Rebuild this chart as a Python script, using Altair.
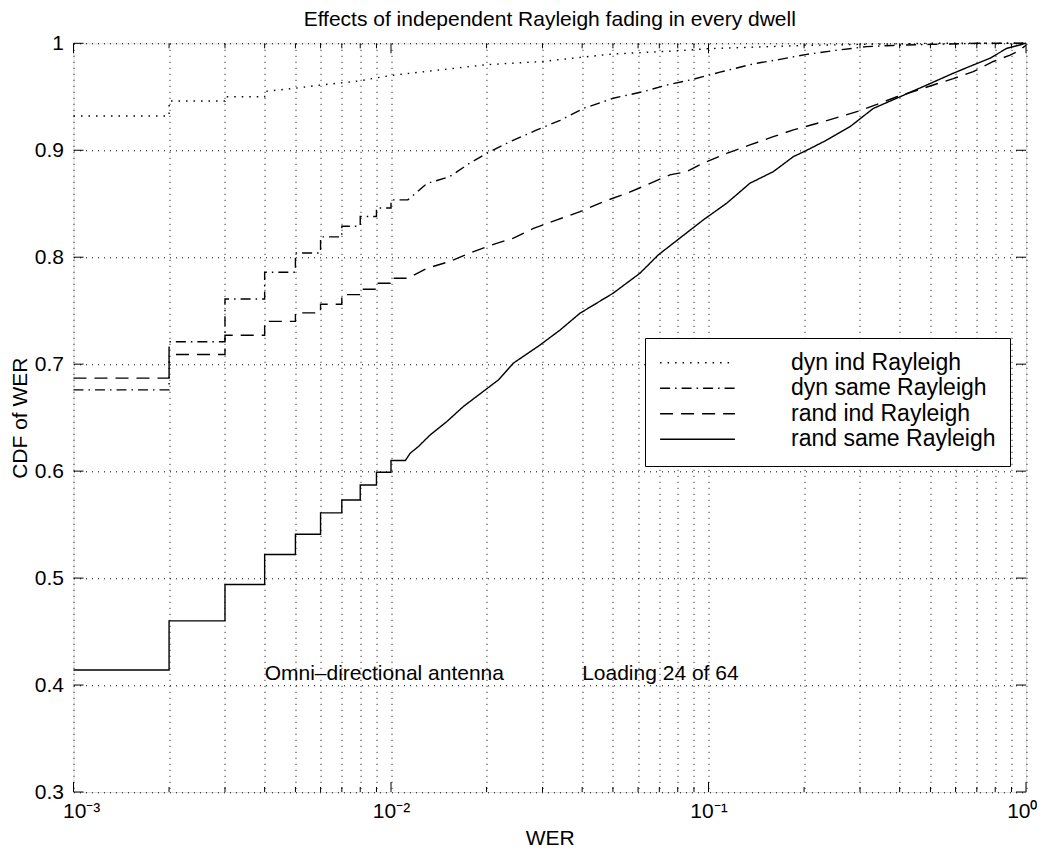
import altair as alt
import pandas as pd

# ---------------- data ----------------
DYN_IND_X = [0.001, 0.002, 0.002, 0.003, 0.003, 0.004, 0.004, 0.005, 0.006, 0.007, 0.008,
             0.01, 0.02, 0.03, 0.04, 0.05, 0.08, 0.1, 0.2, 0.3, 0.5, 1.0]
DYN_IND_Y = [0.932, 0.932, 0.946, 0.946, 0.950, 0.950, 0.955, 0.958, 0.961, 0.963, 0.965,
             0.970, 0.980, 0.983, 0.987, 0.990, 0.993, 0.995, 0.998, 0.999, 1.0, 1.0]

DYN_SAME_X = [0.001, 0.002, 0.002, 0.003, 0.003, 0.004, 0.004, 0.005, 0.005, 0.006, 0.006,
              0.007, 0.007, 0.008, 0.008, 0.009, 0.009, 0.01, 0.01, 0.0113, 0.013, 0.0153,
              0.0177, 0.020, 0.0237, 0.0288, 0.0341, 0.0403, 0.0501, 0.0623, 0.0739, 0.0896,
              0.1087, 0.1381, 0.168, 0.204, 0.247, 0.315, 0.381, 0.5, 0.7, 1.0]
DYN_SAME_Y = [0.676, 0.676, 0.721, 0.721, 0.761, 0.761, 0.786, 0.786, 0.804, 0.804, 0.819,
              0.819, 0.829, 0.829, 0.838, 0.838, 0.846, 0.846, 0.8536, 0.8536, 0.869, 0.8753,
              0.888, 0.897, 0.908, 0.919, 0.928, 0.939, 0.9486, 0.9548, 0.961, 0.9664,
              0.973, 0.9807, 0.985, 0.9897, 0.9931, 0.9969, 0.998, 0.999, 1.0, 1.0]

RAND_IND_X = [0.001, 0.002, 0.002, 0.003, 0.003, 0.004, 0.004, 0.005, 0.005, 0.006, 0.006,
              0.007, 0.007, 0.008, 0.008, 0.009, 0.009, 0.01, 0.01, 0.0113, 0.013, 0.0153,
              0.0182, 0.0215, 0.0243, 0.0281, 0.0333, 0.0394, 0.0467, 0.0553, 0.0639, 0.0756,
              0.0854, 0.0963, 0.1141, 0.1351, 0.160, 0.185, 0.219, 0.260, 0.300, 0.347, 0.392,
              0.475, 0.590, 0.682, 0.789, 0.891, 0.935, 1.0]
RAND_IND_Y = [0.687, 0.687, 0.709, 0.709, 0.727, 0.727, 0.740, 0.740, 0.748, 0.748, 0.756,
              0.756, 0.765, 0.765, 0.770, 0.770, 0.7757, 0.7757, 0.7804, 0.7804, 0.7897, 0.796,
              0.8053, 0.813, 0.8178, 0.827, 0.8349, 0.8426, 0.852, 0.8598, 0.8676, 0.877,
              0.880, 0.888, 0.897, 0.905, 0.9127, 0.919, 0.925, 0.9314, 0.937, 0.944, 0.950,
              0.958, 0.967, 0.9735, 0.983, 0.989, 0.992, 0.998]

RAND_SAME_X = [0.001, 0.002, 0.002, 0.003, 0.003, 0.004, 0.004, 0.005, 0.005, 0.006, 0.006,
               0.007, 0.007, 0.008, 0.008, 0.009, 0.009, 0.01, 0.01, 0.0111, 0.0115, 0.0122,
               0.0133, 0.0150, 0.0169, 0.0195, 0.0218, 0.0243, 0.0295, 0.0341, 0.0394, 0.0501,
               0.0608, 0.0695, 0.0963, 0.1141, 0.1351, 0.160, 0.185, 0.204, 0.236, 0.279, 0.330,
               0.401, 0.487, 0.590, 0.682, 0.770, 0.870, 1.0]
RAND_SAME_Y = [0.414, 0.414, 0.460, 0.460, 0.494, 0.494, 0.522, 0.522, 0.541, 0.541, 0.561,
               0.561, 0.573, 0.573, 0.587, 0.587, 0.599, 0.599, 0.610, 0.610, 0.6168, 0.623,
               0.634, 0.6464, 0.6604, 0.6744, 0.6853, 0.701, 0.718, 0.732, 0.7477, 0.7664,
               0.785, 0.8022, 0.8349, 0.8505, 0.8692, 0.880, 0.894, 0.900, 0.9096, 0.922, 0.939,
               0.950, 0.961, 0.972, 0.9797, 0.986, 0.9953, 1.0]

SERIES = ["dyn ind Rayleigh", "dyn same Rayleigh", "rand ind Rayleigh", "rand same Rayleigh"]
DASHES = [[1.5, 6], [10, 5, 1.5, 5], [13, 8], [1, 0]]

X_MAJOR = [0.001, 0.01, 0.1, 1.0]
X_MINOR = [0.002, 0.003, 0.004, 0.005, 0.006, 0.007, 0.008, 0.009,
           0.02, 0.03, 0.04, 0.05, 0.06, 0.07, 0.08, 0.09,
           0.2, 0.3, 0.4, 0.5, 0.6, 0.7, 0.8, 0.9]
Y_TICKS = [0.3, 0.4, 0.5, 0.6, 0.7, 0.8, 0.9, 1.0]

ANNOT_X = [0.004, 0.04]
ANNOT_Y = [0.41, 0.41]
ANNOT_TEXT = ["Omni\u2013directional antenna", "Loading 24 of 64"]

TITLE = "Effects of independent Rayleigh fading in every dwell"

# ---------------- build tables ----------------
rows = []
for name, xs, ys in [(SERIES[0], DYN_IND_X, DYN_IND_Y), (SERIES[1], DYN_SAME_X, DYN_SAME_Y),
                     (SERIES[2], RAND_IND_X, RAND_IND_Y), (SERIES[3], RAND_SAME_X, RAND_SAME_Y)]:
    for i, (x, y) in enumerate(zip(xs, ys)):
        rows.append({"series": name, "x": x, "y": y, "order": i})
df = pd.DataFrame(rows)

W, H = 952.5, 748.7
FONT = "Liberation Sans"
FS = 21

xscale = alt.Scale(type="log", domain=[0.001, 1.0], nice=False)
yscale = alt.Scale(domain=[0.3, 1.0], nice=False, zero=False)

label_expr = ("abs(log(datum.value)/LN10 - round(log(datum.value)/LN10)) < 0.001 ? "
              "(round(log(datum.value)/LN10) == -3 ? '10\u207b\u00b3' : "
              "round(log(datum.value)/LN10) == -2 ? '10\u207b\u00b2' : "
              "round(log(datum.value)/LN10) == -1 ? '10\u207b\u00b9' : '10\u2070') : ''")

X_AXIS = alt.Axis(values=X_MAJOR + X_MINOR, labelExpr=label_expr, title="WER",
                  grid=True, gridDash=[1, 5], gridColor="black", gridOpacity=1,
                  gridWidth=1, ticks=False, domain=False, labelPadding=8,
                  labelFontSize=FS, titleFontSize=FS, labelFont=FONT, titleFont=FONT,
                  titleFontWeight="normal", titlePadding=6, labelColor="black",
                  titleColor="black", labelFlush=True, labelFlushOffset=11,
                  labelOverlap=False)
Y_AXIS = alt.Axis(values=Y_TICKS, format="~g", title="CDF of WER",
                  grid=True, gridDash=[1, 5], gridColor="black", gridOpacity=1,
                  gridWidth=1, ticks=False, domain=False, labelPadding=10,
                  labelFontSize=FS, titleFontSize=FS, labelFont=FONT, titleFont=FONT,
                  titleFontWeight="normal", titlePadding=4, labelColor="black",
                  titleColor="black", labelFlush=False, labelOverlap=False)

lines = alt.Chart(df).mark_line(color="black", strokeWidth=1.4).encode(
    x=alt.X("x:Q", scale=xscale, axis=X_AXIS),
    y=alt.Y("y:Q", scale=yscale, axis=Y_AXIS),
    strokeDash=alt.StrokeDash("series:N",
                              scale=alt.Scale(domain=SERIES, range=DASHES),
                              sort=SERIES,
                              legend=alt.Legend(title=None, orient="none",
                                                legendX=571.5, legendY=294.7,
                                                symbolType="stroke", symbolSize=5600,
                                                symbolStrokeWidth=1.4, symbolStrokeColor="black",
                                                labelFontSize=23, labelFont=FONT,
                                                labelColor="black", labelOffset=55,
                                                labelLimit=400, rowPadding=1.5, padding=14,
                                                clipHeight=21.5,
                                                strokeColor="black", fillColor="white")),
    order="order:Q",
)

# inward ticks on all four sides
tx_major = pd.DataFrame({"x": X_MAJOR})
tx_minor = pd.DataFrame({"x": X_MINOR})
ty = pd.DataFrame({"y": Y_TICKS})


def xticks(data, y0, y1):
    return alt.Chart(data).mark_rule(color="black", strokeWidth=1).encode(
        x=alt.X("x:Q", scale=xscale, axis=X_AXIS), y=alt.value(y0), y2=alt.value(y1))


def yticks(x0, x1):
    return alt.Chart(ty).mark_rule(color="black", strokeWidth=1).encode(
        y=alt.Y("y:Q", scale=yscale, axis=Y_AXIS), x=alt.value(x0), x2=alt.value(x1))


ticks = [xticks(tx_major, 0, 10), xticks(tx_major, H, H - 10),
         xticks(tx_minor, 0, 5), xticks(tx_minor, H, H - 5),
         yticks(0, 10), yticks(W, W - 10)]

annot_df = pd.DataFrame({"x": ANNOT_X, "y": ANNOT_Y, "t": ANNOT_TEXT})
annots = alt.Chart(annot_df).mark_text(align="left", baseline="middle", fontSize=FS,
                                       font=FONT, color="black").encode(
    x=alt.X("x:Q", scale=xscale, axis=X_AXIS), y=alt.Y("y:Q", scale=yscale, axis=Y_AXIS),
    text="t:N")

chart = alt.layer(lines, *ticks, annots).properties(
    width=W, height=H,
    title=alt.TitleParams(TITLE, fontSize=FS, font=FONT, fontWeight="normal",
                          color="black", offset=13, dy=11, anchor="middle", frame="group"),
    padding={"left": 65.5, "top": 35.3, "right": 11, "bottom": 58},
    autosize=alt.AutoSizeParams(type="none"),
).configure_view(stroke="black", strokeWidth=1.2).configure(background="white")

chart.save("out.html", embed_options={"renderer": "svg", "actions": False})
